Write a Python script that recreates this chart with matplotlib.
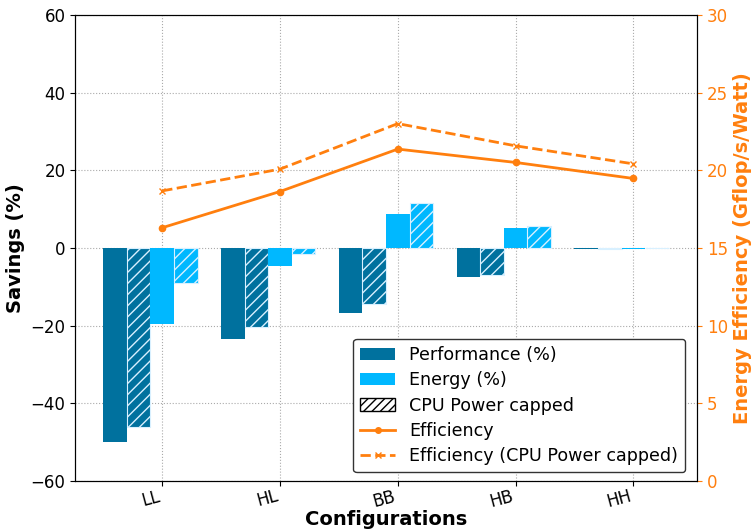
import matplotlib
matplotlib.use("Agg")
import matplotlib.pyplot as plt
import numpy as np
from matplotlib.patches import Patch
from matplotlib.lines import Line2D

configs = ["LL", "HL", "BB", "HB", "HH"]
perf = [-50.0, -23.4, -16.7, -7.4, -0.3]
perf_capped = [-46.0, -20.4, -14.5, -7.0, -0.2]
energy = [-19.5, -4.6, 8.8, 5.15, -0.3]
energy_capped = [-9.1, -1.5, 11.5, 5.7, -0.1]
eff = [16.3, 18.63, 21.36, 20.5, 19.47]
eff_capped = [18.67, 20.07, 23.0, 21.57, 20.41]

c_perf = "#00719e"
c_energy = "#00b8ff"
c_orange = "#ff7f0e"

fig = plt.figure(figsize=(7.51, 5.30), dpi=100)
ax = fig.add_axes([0.1, 0.0925, 0.828, 0.8795])
x = np.arange(len(configs))
w = 0.2
ax.bar(x - 0.4, perf, w, color=c_perf, zorder=3)
ax.bar(x - 0.2, perf_capped, w, color=c_perf, hatch="///", edgecolor="#d8f0ff", lw=0.8, zorder=3)
ax.bar(x, energy, w, color=c_energy, zorder=3)
ax.bar(x + 0.2, energy_capped, w, color=c_energy, hatch="///", edgecolor="#d8f0ff", lw=0.8, zorder=3)
ax.set_ylim(-60, 60)
ax.set_yticks(range(-60, 61, 20))
ax.set_xticks(x)
ax.set_xticklabels(configs, rotation=15, ha="right")
ax.grid(True, linestyle=":", color="#aaaaaa", linewidth=0.8, zorder=0)
ax.set_axisbelow(True)
ax.set_ylabel("Savings (%)", fontsize=14, fontweight="bold")
ax.set_xlabel("Configurations", fontsize=14, fontweight="bold", labelpad=-1)
ax.tick_params(labelsize=12)
ax.tick_params(axis="x", pad=1)

ax2 = ax.twinx()
ax2.plot(x, eff, "-", marker=".", color=c_orange, lw=2, ms=9)
ax2.plot(x, eff_capped, "--", marker="x", color=c_orange, lw=2, ms=5)
ax2.set_ylim(0, 30)
ax2.set_yticks(range(0, 31, 5))
ax2.tick_params(axis="y", colors=c_orange, labelsize=12)
ax2.set_ylabel("Energy Efficiency (Gflop/s/Watt)", fontsize=14, fontweight="bold", color=c_orange)

handles = [
    Patch(facecolor=c_perf, label="Performance (%)"),
    Patch(facecolor=c_energy, label="Energy (%)"),
    Patch(facecolor="white", edgecolor="black", hatch="////", label="CPU Power capped"),
    Line2D([], [], color=c_orange, marker=".", lw=2, ms=8, label="Efficiency"),
    Line2D([], [], color=c_orange, marker="x", ls="--", lw=2, ms=4, label="Efficiency (CPU Power capped)"),
]
leg = ax2.legend(handles=handles, loc="lower right", fontsize=12.6, framealpha=1,
                 edgecolor="#333333", bbox_to_anchor=(0.995, 0.0), labelspacing=0.42)
fig.savefig("out.png", dpi=100)
